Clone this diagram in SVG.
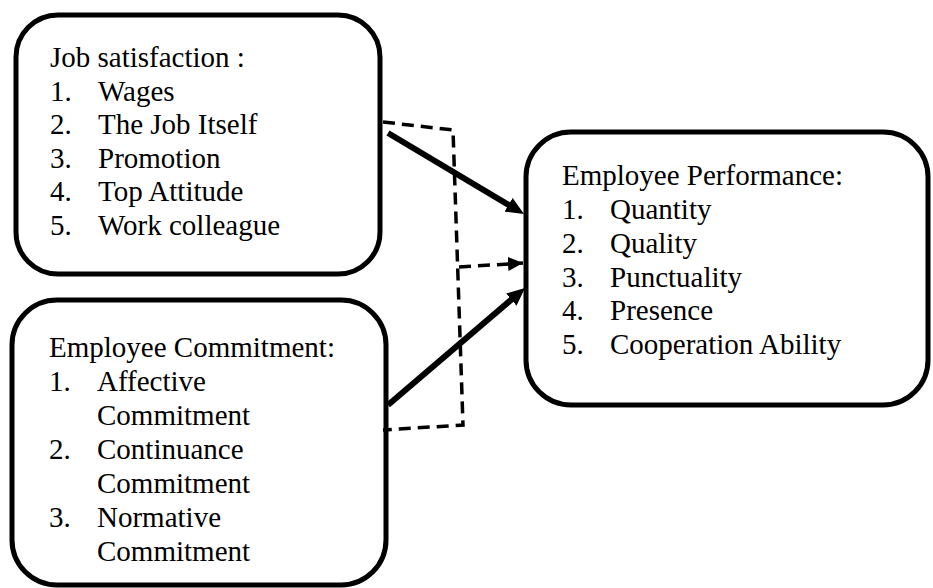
<svg xmlns="http://www.w3.org/2000/svg" width="933" height="588" viewBox="0 0 933 588">
  <style>
    .box { fill: #ffffff; stroke: #000000; stroke-width: 5; }
    text { font-family: 'Liberation Serif', 'Times New Roman', Tinos, 'DejaVu Serif', serif; font-size: 29px; fill: #000000; }
    .solid { fill: none; stroke: #000000; stroke-width: 6; }
    .dash { fill: none; stroke: #000000; stroke-width: 3.5; stroke-dasharray: 12 7; }
  </style>
  <defs>
    <marker id="headSolid" viewBox="0 0 18 16" refX="8" refY="8" markerWidth="18" markerHeight="16" markerUnits="userSpaceOnUse" orient="auto">
      <path d="M0,0 L18,8 L0,16 Z" fill="#000000"/>
    </marker>
    <marker id="headDash" viewBox="0 0 15 14" refX="15" refY="7" markerWidth="15" markerHeight="14" markerUnits="userSpaceOnUse" orient="auto">
      <path d="M0,0 L15,7 L0,14 Z" fill="#000000"/>
    </marker>
  </defs>

  <rect width="933" height="588" fill="#ffffff"/>

  <g font-family="Liberation Serif, Times New Roman, DejaVu Serif, serif">
  <g id="job-satisfaction">
    <rect class="box" x="16" y="15" width="364" height="259" rx="42" ry="42"/>
    <text x="50" y="67">Job satisfaction :</text>
    <text x="50" y="100.5">1.</text><text x="98" y="100.5">Wages</text>
    <text x="50" y="134">2.</text><text x="98" y="134">The Job Itself</text>
    <text x="50" y="167.5">3.</text><text x="98" y="167.5">Promotion</text>
    <text x="50" y="201">4.</text><text x="98" y="201">Top Attitude</text>
    <text x="50" y="234.5">5.</text><text x="98" y="234.5">Work colleague</text>
  </g>

  <g id="employee-commitment">
    <rect class="box" x="12" y="300" width="374" height="285" rx="45" ry="45"/>
    <text x="49" y="357">Employee Commitment:</text>
    <text x="49" y="391">1.</text><text x="97" y="391">Affective</text>
    <text x="97" y="425">Commitment</text>
    <text x="49" y="459">2.</text><text x="97" y="459">Continuance</text>
    <text x="97" y="493">Commitment</text>
    <text x="49" y="527">3.</text><text x="97" y="527">Normative</text>
    <text x="97" y="561">Commitment</text>
  </g>

  <g id="employee-performance">
    <rect class="box" x="526" y="132" width="402" height="273" rx="45" ry="45"/>
    <text x="562" y="185">Employee Performance:</text>
    <text x="562" y="219">1.</text><text x="610" y="219">Quantity</text>
    <text x="562" y="253">2.</text><text x="610" y="253">Quality</text>
    <text x="562" y="287">3.</text><text x="610" y="287">Punctuality</text>
    <text x="562" y="320">4.</text><text x="610" y="320">Presence</text>
    <text x="562" y="354">5.</text><text x="610" y="354">Cooperation Ability</text>
  </g>
  </g>

  <g id="connectors">
    <!-- joint path: dashed bracket linking both inputs -->
    <path class="dash" d="M383,122 L453,130 L463,425 L383,430"/>
    <path class="dash" d="M459,267 L523,263" marker-end="url(#headDash)"/>
    <!-- direct effects -->
    <line class="solid" x1="388" y1="133" x2="515.4" y2="208.9" marker-end="url(#headSolid)"/>
    <line class="solid" x1="388" y1="405" x2="517.4" y2="294.5" marker-end="url(#headSolid)"/>
  </g>
</svg>
